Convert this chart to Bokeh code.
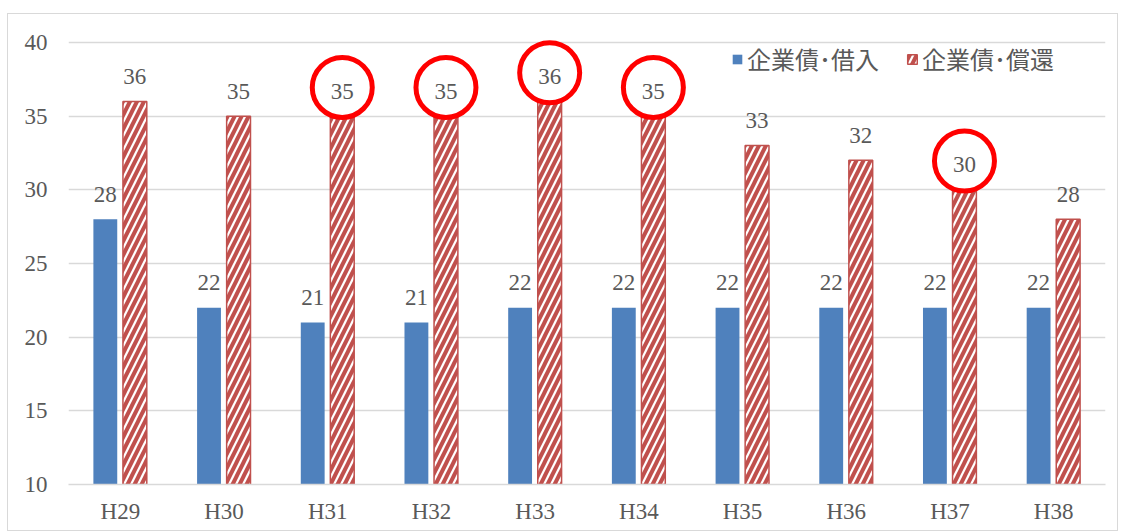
from bokeh.plotting import figure
from bokeh.models import ColumnDataSource, FactorRange, Range1d, Legend, LegendItem, FixedTicker
from bokeh.transform import dodge
from bokeh.embed import file_html
from bokeh.resources import INLINE
from bokeh.core.properties import value

categories = ["H29", "H30", "H31", "H32", "H33", "H34", "H35", "H36", "H37", "H38"]
borrow = [28, 22, 21, 21, 22, 22, 22, 22, 22, 22]
repay = [36, 35, 35, 35, 36, 35, 33, 32, 30, 28]
circled = ["H31", "H32", "H33", "H34", "H37"]
y_ticks = [10, 15, 20, 25, 30, 35, 40]
label_borrow = "企業債･借入"
label_repay = "企業債･償還"

BLUE = "#4F81BD"
RED = "#C0504D"
GRAY_TXT = "#595959"
GRID = "#D9D9D9"
SERIF = "Liberation Serif"

src = ColumnDataSource(dict(
    cat=categories,
    borrow=borrow,
    repay=repay,
    borrow_txt=[str(v) for v in borrow],
    repay_txt=[str(v) for v in repay],
))
circ_vals = [repay[categories.index(c)] for c in circled]
csrc = ColumnDataSource(dict(cat=circled, y=[v + 1.95 for v in circ_vals]))

p = figure(width=1111, height=518, x_range=FactorRange(*categories, range_padding=0),
           y_range=Range1d(10, 40.61), output_backend="svg", toolbar_location=None)
p.margin = (13, 0, 0, 7)
p.stylesheets = [":host { border: 1px solid #d9d9d9; box-sizing: border-box; }"]
p.min_border_left = 60
p.min_border_right = 14
p.min_border_top = 19
p.min_border_bottom = 48
p.outline_line_color = None
p.background_fill_color = "white"
p.border_fill_color = "white"

OFF_B = -0.145
OFF_R = 0.14
W = 0.23

rb = p.vbar(x=dodge("cat", OFF_B, range=p.x_range), top="borrow", bottom=0, width=W,
            source=src, fill_color=BLUE, line_color=None)
rr = p.vbar(x=dodge("cat", OFF_R, range=p.x_range), top="repay", bottom=0, width=W,
            source=src, fill_color="white", line_color=RED, line_width=1.5,
            hatch_pattern="/", hatch_color=RED, hatch_scale=14, hatch_weight=4)

p.text(x=dodge("cat", OFF_B, range=p.x_range), y="borrow", text="borrow_txt", source=src,
       text_align="center", text_baseline="alphabetic", y_offset=-25,
       text_font=value(SERIF), text_font_size="23px", text_color=GRAY_TXT)
p.text(x=dodge("cat", OFF_R, range=p.x_range), y="repay", text="repay_txt", source=src,
       text_align="center", text_baseline="alphabetic", y_offset=-25,
       text_font=value(SERIF), text_font_size="23px", text_color=GRAY_TXT)

p.scatter(x=dodge("cat", OFF_R, range=p.x_range), y="y", source=csrc, marker="circle",
          size=60, fill_alpha=0, line_color="#FF0000", line_width=5)

p.xgrid.grid_line_color = None
p.ygrid.grid_line_color = GRID
p.ygrid.grid_line_width = 1.5
p.yaxis.ticker = FixedTicker(ticks=y_ticks)
p.yaxis.axis_line_color = None
p.yaxis.major_tick_line_color = None
p.yaxis.minor_tick_line_color = None
p.yaxis.major_label_standoff = 15
p.yaxis.major_label_text_font = SERIF
p.yaxis.major_label_text_font_size = "23px"
p.yaxis.major_label_text_color = GRAY_TXT

p.xaxis.axis_line_color = GRID
p.xaxis.axis_line_width = 1.5
p.xaxis.major_tick_line_color = None
p.xaxis.minor_tick_line_color = None
p.xaxis.major_label_standoff = 8
p.xaxis.major_label_text_font = SERIF
p.xaxis.major_label_text_font_size = "23px"
p.xaxis.major_label_text_color = GRAY_TXT

legend = Legend(items=[LegendItem(label=label_borrow, renderers=[rb]),
                       LegendItem(label=label_repay, renderers=[rr])],
                location=(663, 408), orientation="horizontal")
legend.glyph_width = 12
legend.glyph_height = 12
legend.label_standoff = 4
legend.spacing = 27
legend.padding = 0
legend.margin = 0
legend.border_line_color = None
legend.background_fill_alpha = 0
legend.label_text_font = "Noto Sans CJK JP"
legend.label_text_font_size = "24px"
legend.label_text_color = GRAY_TXT
legend.label_height = 30
p.add_layout(legend, "center")

open("out.html", "w").write(file_html(p, INLINE))
